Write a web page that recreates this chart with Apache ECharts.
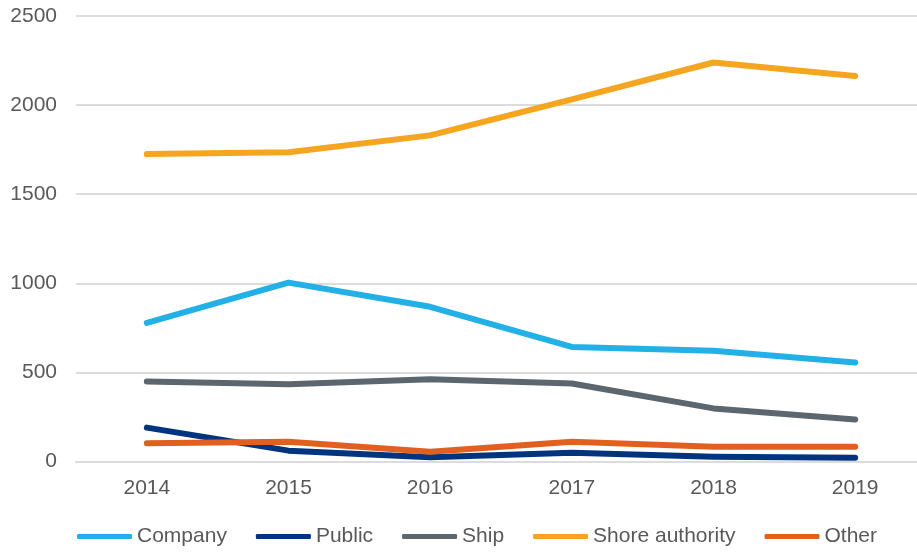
<!DOCTYPE html>
<html>
<head>
<meta charset="utf-8">
<script src="https://cdn.jsdelivr.net/npm/echarts@6/dist/echarts.min.js"></script>
<style>
    html, body { margin: 0; padding: 0; background: #fff; overflow: hidden; }
    #chart { width: 926px; height: 552px; }
</style>
</head>
<body>
<div id="chart"></div>
<script>
var years = ["2014", "2015", "2016", "2017", "2018", "2019"];
var company = [778, 1004, 868, 643, 621, 556];
var publicVals = [190, 61, 24, 49, 27, 21];
var ship = [449, 434, 462, 438, 298, 236];
var shore = [1725, 1735, 1830, 2032, 2239, 2163];
var other = [102, 111, 55, 111, 83, 83];

var names = ["Company", "Public", "Ship", "Shore authority", "Other"];
var colors = ["#22b0e6", "#00347f", "#5b666e", "#f5a51f", "#e2601f"];
var values = [company, publicVals, ship, shore, other];

var myChart = echarts.init(document.getElementById("chart"));

var series = names.map(function (n, i) {
    return {
        name: n,
        type: "line",
        data: values[i],
        symbol: "none",
        color: colors[i],
        lineStyle: { width: 6, cap: "round", join: "round" },
    };
});

var option = {
    animation: false,
    grid: { left: 76, right: 0, top: 16, bottom: 90.5 },
    legend: {
        left: 77,
        top: 526,
        padding: 0,
        icon: "roundRect",
        itemWidth: 55,
        itemHeight: 5,
        itemGap: 29,
        textStyle: { color: "#595959", fontSize: 21, fontFamily: "Liberation Sans" },
        data: names,
    },
    xAxis: {
        type: "category",
        data: years,
        boundaryGap: true,
        axisLine: { show: true, lineStyle: { color: "#dcdcdc", width: 2 } },
        axisTick: { show: false },
        axisLabel: { color: "#595959", fontSize: 21, fontFamily: "Liberation Sans", margin: 16 },
    },
    yAxis: {
        type: "value",
        min: 0,
        max: 2500,
        interval: 500,
        axisLine: { show: false },
        axisTick: { show: false },
        splitLine: { lineStyle: { color: "#dcdcdc", width: 2 } },
        axisLabel: {
            color: "#595959",
            fontSize: 21,
            fontFamily: "Liberation Sans",
            margin: 19,
            formatter: function (v) { return String(v); },
        },
    },
    series: series,
};

myChart.setOption(option);
</script>
</body>
</html>
